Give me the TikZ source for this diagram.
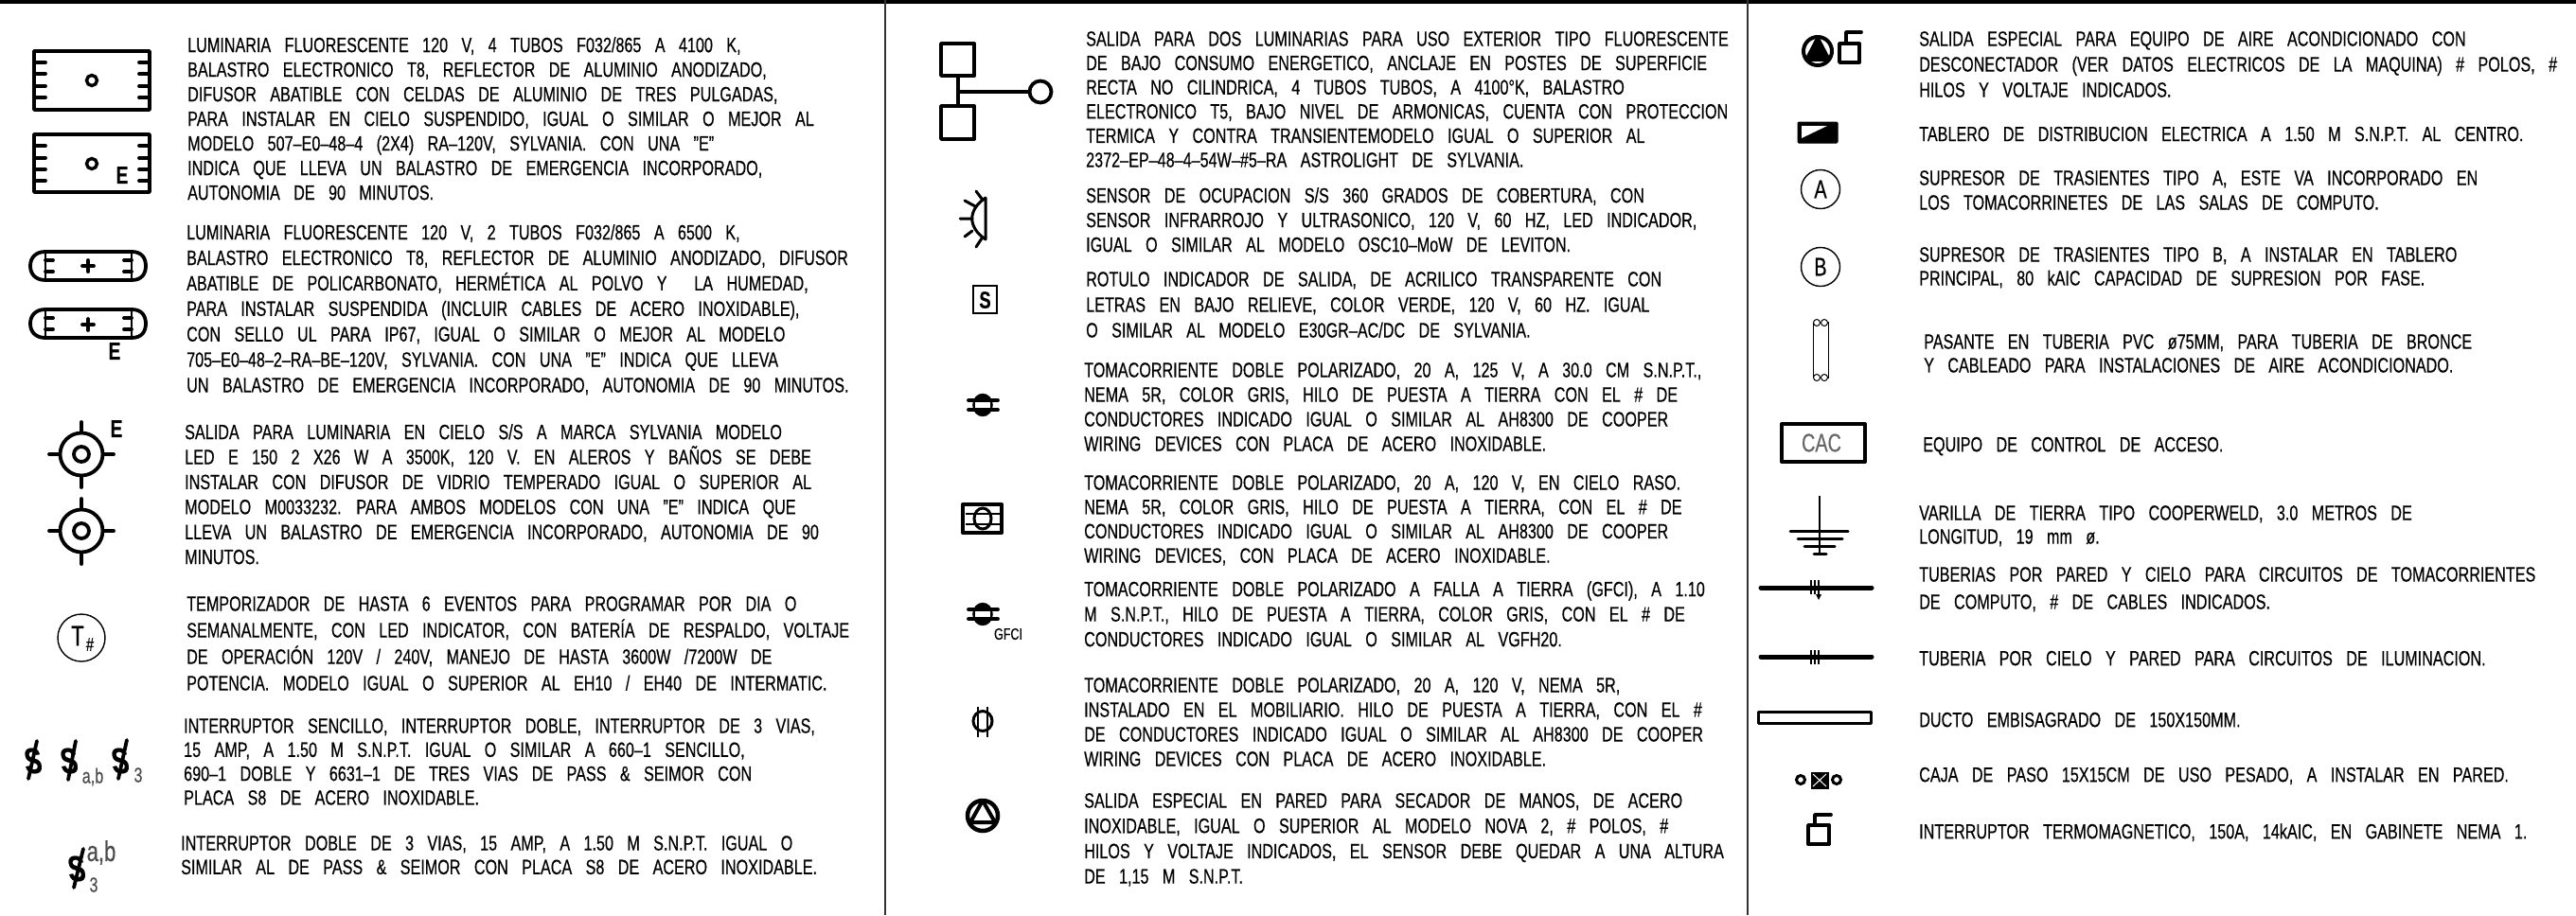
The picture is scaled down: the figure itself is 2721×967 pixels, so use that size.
\documentclass[tikz,border=0pt]{standalone}
\usepackage{fontspec}
\setmainfont[FakeStretch=0.735,WordSpace=3.2,FakeBold=0.4]{Liberation Sans}
\tikzset{
  legendtext/.style={anchor=north west,inner sep=0pt,align=left,font=\fontsize{22}{#1}\selectfont,execute at begin node=\rule{0pt}{17pt}},
  legendtext/.default=26,
  symbol/.style={line width=3.8pt,line cap=round,line join=round},
  thinsymbol/.style={line width=1.4pt},
  letterE/.style={inner sep=0pt,font=\fontsize{26}{26}\selectfont\bfseries},
  switchS/.style={inner sep=0pt,font=\fontsize{38}{38}\selectfont\bfseries,xslant=-0.12},
  smalllabel/.style={inner sep=0pt,text=black!70,font=\fontsize{#1}{#1}\selectfont}
}
\begin{document}
\begin{tikzpicture}[x=1pt,y=-1pt]
\useasboundingbox (0,0) rectangle (2721,967);
\fill[black] (0,0) rectangle (2721,3.5);
\draw[line width=2pt,black!80] (935,0) -- (935,967);
\draw[line width=2pt,black!80] (1846,0) -- (1846,967);

\node[legendtext=26] (fluor4) at (198,39) {LUMINARIA FLUORESCENTE 120 V, 4 TUBOS F032/865 A 4100 K,\\BALASTRO ELECTRONICO T8, REFLECTOR DE ALUMINIO ANODIZADO,\\DIFUSOR ABATIBLE CON CELDAS DE ALUMINIO DE TRES PULGADAS,\\PARA INSTALAR EN CIELO SUSPENDIDO, IGUAL O SIMILAR O MEJOR AL\\MODELO 507–E0–48–4 (2X4) RA–120V, SYLVANIA. CON UNA "E"\\INDICA QUE LLEVA UN BALASTRO DE EMERGENCIA INCORPORADO,\\AUTONOMIA DE 90 MINUTOS.};
\node[legendtext=26.9] (fluor2) at (197,237) {LUMINARIA FLUORESCENTE 120 V, 2 TUBOS F032/865 A 6500 K,\\BALASTRO ELECTRONICO T8, REFLECTOR DE ALUMINIO ANODIZADO, DIFUSOR\\ABATIBLE DE POLICARBONATO, HERMÉTICA AL POLVO Y\ \ LA HUMEDAD,\\PARA INSTALAR SUSPENDIDA (INCLUIR CABLES DE ACERO INOXIDABLE),\\CON SELLO UL PARA IP67, IGUAL O SIMILAR O MEJOR AL MODELO\\705–E0–48–2–RA–BE–120V, SYLVANIA. CON UNA "E" INDICA QUE LLEVA\\UN BALASTRO DE EMERGENCIA INCORPORADO, AUTONOMIA DE 90 MINUTOS.};
\node[legendtext=26.4] (salida) at (195,448) {SALIDA PARA LUMINARIA EN CIELO S/S A MARCA SYLVANIA MODELO\\LED E 150 2 X26 W A 3500K, 120 V. EN ALEROS Y BAÑOS SE DEBE\\INSTALAR CON DIFUSOR DE VIDRIO TEMPERADO IGUAL O SUPERIOR AL\\MODELO M0033232. PARA AMBOS MODELOS CON UNA "E" INDICA QUE\\LLEVA UN BALASTRO DE EMERGENCIA INCORPORADO, AUTONOMIA DE 90\\MINUTOS.};
\node[legendtext=28] (timer) at (197,630) {TEMPORIZADOR DE HASTA 6 EVENTOS PARA PROGRAMAR POR DIA O\\SEMANALMENTE, CON LED INDICATOR, CON BATERÍA DE RESPALDO, VOLTAJE\\DE OPERACIÓN 120V / 240V, MANEJO DE HASTA 3600W /7200W DE\\POTENCIA. MODELO IGUAL O SUPERIOR AL EH10 / EH40 DE INTERMATIC.};
\node[legendtext=25.3] (switches) at (194,759) {INTERRUPTOR SENCILLO, INTERRUPTOR DOBLE, INTERRUPTOR DE 3 VIAS,\\15 AMP, A 1.50 M S.N.P.T. IGUAL O SIMILAR A 660–1 SENCILLO,\\690–1 DOBLE Y 6631–1 DE TRES VIAS DE PASS \& SEIMOR CON\\PLACA S8 DE ACERO INOXIDABLE.};
\node[legendtext=25.3] (switchdbl) at (191,883) {INTERRUPTOR DOBLE DE 3 VIAS, 15 AMP, A 1.50 M S.N.P.T. IGUAL O\\SIMILAR AL DE PASS \& SEIMOR CON PLACA S8 DE ACERO INOXIDABLE.};

\node[legendtext=25.6] (exterior) at (1147,33) {SALIDA PARA DOS LUMINARIAS PARA USO EXTERIOR TIPO FLUORESCENTE\\DE BAJO CONSUMO ENERGETICO, ANCLAJE EN POSTES DE SUPERFICIE\\RECTA NO CILINDRICA, 4 TUBOS TUBOS, A 4100°K, BALASTRO\\ELECTRONICO T5, BAJO NIVEL DE ARMONICAS, CUENTA CON PROTECCION\\TERMICA Y CONTRA TRANSIENTEMODELO IGUAL O SUPERIOR AL\\2372–EP–48–4–54W–\#5–RA ASTROLIGHT DE SYLVANIA.};
\node[legendtext=26] (sensor) at (1147,198) {SENSOR DE OCUPACION S/S 360 GRADOS DE COBERTURA, CON\\SENSOR INFRARROJO Y ULTRASONICO, 120 V, 60 HZ, LED INDICADOR,\\IGUAL O SIMILAR AL MODELO OSC10–MoW DE LEVITON.};
\node[legendtext=27] (rotulo) at (1147,287) {ROTULO INDICADOR DE SALIDA, DE ACRILICO TRANSPARENTE CON\\LETRAS EN BAJO RELIEVE, COLOR VERDE, 120 V, 60 HZ. IGUAL\\O SIMILAR AL MODELO E30GR–AC/DC DE SYLVANIA.};
\node[legendtext=26] (toma) at (1145,383) {TOMACORRIENTE DOBLE POLARIZADO, 20 A, 125 V, A 30.0 CM S.N.P.T.,\\NEMA 5R, COLOR GRIS, HILO DE PUESTA A TIERRA CON EL \# DE\\CONDUCTORES INDICADO IGUAL O SIMILAR AL AH8300 DE COOPER\\WIRING DEVICES CON PLACA DE ACERO INOXIDABLE.};
\node[legendtext=25.7] (tomacielo) at (1145,502) {TOMACORRIENTE DOBLE POLARIZADO, 20 A, 120 V, EN CIELO RASO.\\NEMA 5R, COLOR GRIS, HILO DE PUESTA A TIERRA, CON EL \# DE\\CONDUCTORES INDICADO IGUAL O SIMILAR AL AH8300 DE COOPER\\WIRING DEVICES, CON PLACA DE ACERO INOXIDABLE.};
\node[legendtext=26.5] (tomagfci) at (1145,614) {TOMACORRIENTE DOBLE POLARIZADO A FALLA A TIERRA (GFCI), A 1.10\\M S.N.P.T., HILO DE PUESTA A TIERRA, COLOR GRIS, CON EL \# DE\\CONDUCTORES INDICADO IGUAL O SIMILAR AL VGFH20.};
\node[legendtext=26] (tomamob) at (1145,716) {TOMACORRIENTE DOBLE POLARIZADO, 20 A, 120 V, NEMA 5R,\\INSTALADO EN EL MOBILIARIO. HILO DE PUESTA A TIERRA, CON EL \#\\DE CONDUCTORES INDICADO IGUAL O SIMILAR AL AH8300 DE COOPER\\WIRING DEVICES CON PLACA DE ACERO INOXIDABLE.};
\node[legendtext=26.7] (secador) at (1145,838) {SALIDA ESPECIAL EN PARED PARA SECADOR DE MANOS, DE ACERO\\INOXIDABLE, IGUAL O SUPERIOR AL MODELO NOVA 2, \# POLOS, \#\\HILOS Y VOLTAJE INDICADOS, EL SENSOR DEBE QUEDAR A UNA ALTURA\\DE 1,15 M S.N.P.T.};

\node[legendtext=27] (aire) at (2027,33) {SALIDA ESPECIAL PARA EQUIPO DE AIRE ACONDICIONADO CON\\DESCONECTADOR (VER DATOS ELECTRICOS DE LA MAQUINA) \# POLOS, \#\\HILOS Y VOLTAJE INDICADOS.};
\node[legendtext] (tablero) at (2027,132) {TABLERO DE DISTRIBUCION ELECTRICA A 1.50 M S.N.P.T. AL CENTRO.};
\node[legendtext] (tipoa) at (2027,180) {SUPRESOR DE TRASIENTES TIPO A, ESTE VA INCORPORADO EN\\LOS TOMACORRINETES DE LAS SALAS DE COMPUTO.};
\node[legendtext=25] (tipob) at (2027,261) {SUPRESOR DE TRASIENTES TIPO B, A INSTALAR EN TABLERO\\PRINCIPAL, 80 kAIC CAPACIDAD DE SUPRESION POR FASE.};
\node[legendtext=25] (pasante) at (2032,353) {PASANTE EN TUBERIA PVC ø75MM, PARA TUBERIA DE BRONCE\\Y CABLEADO PARA INSTALACIONES DE AIRE ACONDICIONADO.};
\node[legendtext] (acceso) at (2031,460) {EQUIPO DE CONTROL DE ACCESO.};
\node[legendtext=25] (varilla) at (2027,534) {VARILLA DE TIERRA TIPO COOPERWELD, 3.0 METROS DE\\LONGITUD, 19 mm ø.};
\node[legendtext=29] (tuberias) at (2027,599) {TUBERIAS POR PARED Y CIELO PARA CIRCUITOS DE TOMACORRIENTES\\DE COMPUTO, \# DE CABLES INDICADOS.};
\node[legendtext] (tuberia) at (2027,686) {TUBERIA POR CIELO Y PARED PARA CIRCUITOS DE ILUMINACION.};
\node[legendtext] (ducto) at (2027,751) {DUCTO EMBISAGRADO DE 150X150MM.};
\node[legendtext] (caja) at (2027,809) {CAJA DE PASO 15X15CM DE USO PESADO, A INSTALAR EN PARED.};
\node[legendtext] (interruptor) at (2027,869) {INTERRUPTOR TERMOMAGNETICO, 150A, 14kAIC, EN GABINETE NEMA 1.};

\draw[symbol] (36,54) rectangle (158,116);
\draw[symbol] (36,66) -- (48,66) (36,78) -- (48,78) (36,91) -- (48,91) (36,103) -- (48,103);
\draw[symbol] (158,66) -- (147,66) (158,78) -- (147,78) (158,91) -- (147,91) (158,103) -- (147,103);
\draw[line width=3.4pt] (97,85) circle (5.5);
\draw[symbol] (36,142) rectangle (158,203);
\draw[symbol] (36,154) -- (48,154) (36,167) -- (48,167) (36,179) -- (48,179) (36,191) -- (48,191);
\draw[symbol] (158,154) -- (147,154) (158,167) -- (147,167) (158,179) -- (147,179) (158,191) -- (147,191);
\draw[line width=3.4pt] (97,173) circle (5.5);
\node[letterE] (emerg1) at (129,185) {E};

\draw[symbol] (48,266) -- (139,266) .. controls (150,266) and (154,273) .. (154,281) .. controls (154,289) and (150,296) .. (139,296) -- (48,296) .. controls (37,296) and (32,289) .. (32,281) .. controls (32,273) and (37,266) .. (48,266);
\draw[line width=2.4pt] (48,266) -- (48,296) (139,266) -- (139,296);
\draw[symbol] (48,275) -- (56,275) (48,287) -- (56,287) (139,275) -- (131,275) (139,287) -- (131,287);
\draw[symbol] (87,281) -- (99,281) (93,275) -- (93,287);
\draw[symbol] (48,327) -- (139,327) .. controls (150,327) and (154,334) .. (154,342) .. controls (154,350) and (150,357) .. (139,357) -- (48,357) .. controls (37,357) and (32,350) .. (32,342) .. controls (32,334) and (37,327) .. (48,327);
\draw[line width=2.4pt] (48,327) -- (48,357) (139,327) -- (139,357);
\draw[symbol] (48,336) -- (56,336) (48,348) -- (56,348) (139,336) -- (131,336) (139,348) -- (131,348);
\draw[symbol] (87,343) -- (99,343) (93,337) -- (93,349);
\node[letterE] (emerg2) at (121,371) {E};

\draw[line width=3.8pt] (86,480) circle (22.5);
\draw[line width=3.8pt] (86,480) circle (8);
\draw[symbol] (86,446) -- (86,457) (86,503) -- (86,515) (52,480) -- (63,480) (109,480) -- (120,480);
\node[letterE] (emerg3) at (123,453) {E};
\draw[line width=3.8pt] (86,561) circle (22.5);
\draw[line width=3.8pt] (86,561) circle (8);
\draw[symbol] (86,527) -- (86,538) (86,584) -- (86,596) (52,561) -- (63,561) (109,561) -- (120,561);

\draw[thinsymbol] (86,674) circle (25);
\node[inner sep=0pt,font=\fontsize{30}{30}\selectfont] (timerT) at (82,672) {T};
\node[inner sep=0pt,font=\fontsize{20}{20}\selectfont] (timerN) at (95,681) {\#};

\node[switchS] (sw1) at (35,804) {S};
\draw[symbol] (39,783) -- (30,823);
\node[switchS] (sw2) at (73,804) {S};
\draw[symbol] (80,783) -- (72,824);
\node[switchS] (sw3) at (127,804) {S};
\draw[symbol] (134,782) -- (125,823);
\node[smalllabel=22] (swab) at (98,821) {a,b};
\node[smalllabel=22] (swtres) at (146,819) {3};
\node[switchS] (sw4) at (81,918) {S};
\draw[symbol] (88,897) -- (78,938);
\node[smalllabel=30] (swab2) at (107,901) {a,b};
\node[smalllabel=22] (swtres2) at (99,935) {3};

\draw[symbol] (994,46) rectangle (1029,80);
\draw[symbol] (994,112) rectangle (1029,147);
\draw[symbol] (1012,80) -- (1012,112) (1012,97) -- (1087,97);
\draw[symbol] (1099,97) circle (11.5);

\draw[line width=3pt,line cap=round] (1041,209) -- (1041,253) (1041,209) .. controls (1022,222) and (1022,240) .. (1041,253);
\draw[line width=3pt,line cap=round] (1014,231) -- (1027,231) (1019,212) -- (1030,218) (1031,202) -- (1037,210) (1019,250) -- (1027,244) (1031,261) -- (1037,252);

\draw[thinsymbol] (1028,302) rectangle (1053,331);
\node[inner sep=0pt,font=\fontsize{25}{25}\selectfont\bfseries] (exitS) at (1040.5,317) {S};

\filldraw[black] (1038,428) ellipse [x radius=10.5,y radius=12];
\fill[white] (1030,425) rectangle (1046,431);
\draw[symbol] (1023,423) -- (1054,423) (1023,433) -- (1054,433);

\draw[line width=4pt,line join=round] (1017,533) rectangle (1058,563);
\draw[line width=3pt] (1038,548) ellipse [x radius=9,y radius=11];
\draw[line width=2.6pt] (1020,543) -- (1056,543) (1020,554) -- (1056,554);

\filldraw[black] (1038,649) ellipse [x radius=10.5,y radius=12];
\fill[white] (1030,646) rectangle (1046,652);
\draw[symbol] (1023,644) -- (1054,644) (1023,654) -- (1054,654);
\node[inner sep=0pt,font=\fontsize{17}{17}\selectfont] (gfci) at (1065,670) {GFCI};

\draw[line width=3pt] (1038,762) ellipse [x radius=10,y radius=10.5];
\draw[line width=1.6pt] (1033,747) -- (1033,779) (1043,747) -- (1043,779);

\draw[line width=4.5pt] (1038,862) circle (16);
\draw[line width=4pt,line join=round] (1038,846) -- (1025,869) -- (1051,869) -- cycle;

\draw[line width=4pt] (1920,54) circle (15);
\filldraw[line width=3.5pt,line join=round] (1920,40) -- (1908,63) -- (1932,63) -- cycle;
\draw[symbol] (1943,46) rectangle (1964,66);
\draw[symbol] (1950,46) -- (1950,34) -- (1966,34);

\filldraw[black,line width=1pt,rounded corners=1pt] (1899,129) rectangle (1941,151);
\fill[white] (1903,133) -- (1930,133) -- (1903,146) -- cycle;

\draw[thinsymbol] (1923,200) circle (20.5);
\node[inner sep=0pt,font=\fontsize{27}{27}\selectfont] (supA) at (1923,200) {A};
\draw[thinsymbol] (1923,282) circle (20.5);
\node[inner sep=0pt,font=\fontsize{27}{27}\selectfont] (supB) at (1923,282) {B};

\draw[line width=1pt] (1915,340) -- (1915,400) (1931,340) -- (1931,400);
\draw[line width=1pt] (1919,341) circle (3.5) (1927,341) circle (3.5) (1919,399) circle (3.5) (1927,399) circle (3.5);

\draw[line width=4pt,line join=round] (1882,448) rectangle (1970,488);
\node[inner sep=0pt,text=black!60,font=\fontsize{27}{27}\selectfont] (cac) at (1924,468) {CAC};

\draw[line width=2.6pt] (1922,524) -- (1922,585);
\draw[line width=3pt,line cap=round] (1891,561) -- (1952,561) (1899,569) -- (1946,569) (1906,577) -- (1938,577) (1916,585) -- (1929,585);

\draw[line width=5pt,line cap=round] (1860,621) -- (1977,621);
\draw[line width=1.6pt] (1913,613) -- (1913,628) (1917,613) -- (1917,628) (1921,613) -- (1921,628);
\fill[black] (1918,628) -- (1924,628) -- (1921,634) -- cycle;

\draw[line width=5pt,line cap=round] (1860,694) -- (1977,694);
\draw[line width=1.8pt] (1913,687) -- (1913,702) (1917,687) -- (1917,702) (1921,687) -- (1921,702);

\draw[line width=3pt,line join=round] (1857,752) rectangle (1976,764);

\draw[line width=3pt] (1902,824) circle (4.5) (1940,824) circle (4.5);
\filldraw[black] (1913,816) rectangle (1931,833);
\draw[white,line width=1pt] (1915,818) -- (1929,831) (1929,818) -- (1915,831);

\draw[symbol] (1910,872) rectangle (1932,892);
\draw[symbol] (1917,872) -- (1917,861) -- (1934,861);
\end{tikzpicture}
\end{document}
